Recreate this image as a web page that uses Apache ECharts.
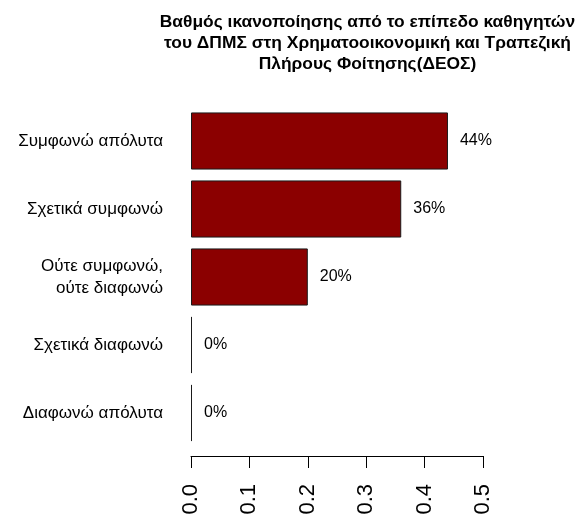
<!DOCTYPE html>
<html>
<head>
<meta charset="utf-8">
<script src="https://cdn.jsdelivr.net/npm/echarts@6/dist/echarts.min.js"></script>
<style>
html,body{margin:0;padding:0;background:#fff;}
#chart{width:582px;height:519px;}
</style>
</head>
<body>
<div id="chart"></div>
<script>
var titleText = 'Βαθμός ικανοποίησης από το επίπεδο καθηγητών\nτου ΔΠΜΣ στη Χρηματοοικονομική και Τραπεζική\nΠλήρους Φοίτησης(ΔΕΟΣ)';
var categories = ['Συμφωνώ απόλυτα', 'Σχετικά συμφωνώ', 'Ούτε συμφωνώ,\nούτε διαφωνώ', 'Σχετικά διαφωνώ', 'Διαφωνώ απόλυτα'];
var values = [0.44, 0.36, 0.20, 0, 0];
var xTicks = [0.0, 0.1, 0.2, 0.3, 0.4, 0.5];

var font = '"Liberation Sans", Arial, sans-serif';
var chart = echarts.init(document.getElementById('chart'), null, {renderer: 'canvas'});
chart.setOption({
  backgroundColor: '#ffffff',
  animation: false,
  title: {
    text: titleText,
    left: 362.5,
    top: 7,
    textAlign: 'center',
    textStyle: {fontFamily: font, fontSize: 17.4, fontWeight: 'bold', color: '#000', lineHeight: 21}
  },
  grid: {left: 191, right: 99, top: 107, height: 340, containLabel: false},
  xAxis: {
    type: 'value',
    min: xTicks[0],
    max: xTicks[xTicks.length - 1],
    interval: 0.1,
    offset: 9,
    splitLine: {show: false},
    axisLine: {show: true, lineStyle: {color: '#000', width: 1}},
    axisTick: {show: true, length: 12, lineStyle: {color: '#000', width: 1}},
    axisLabel: {
      rotate: 90, margin: 28, color: '#000', fontFamily: font, fontSize: 22,
      formatter: function (v) { return v.toFixed(1); }
    }
  },
  yAxis: {
    type: 'category',
    data: categories,
    inverse: true,
    axisLine: {show: false},
    axisTick: {show: false},
    axisLabel: {margin: 28, color: '#000', fontFamily: font, fontSize: 17, lineHeight: 22, align: 'right'}
  },
  series: [{
    type: 'bar',
    data: values,
    barWidth: '84%',
    barMinHeight: 1,
    itemStyle: {color: '#8B0000', borderColor: '#1a1a1a', borderWidth: 1},
    label: {
      show: true, position: 'right', distance: 12, color: '#000',
      fontFamily: font, fontSize: 16,
      formatter: function (p) { return Math.round(p.value * 100) + '%'; }
    }
  }]
});
</script>
</body>
</html>
